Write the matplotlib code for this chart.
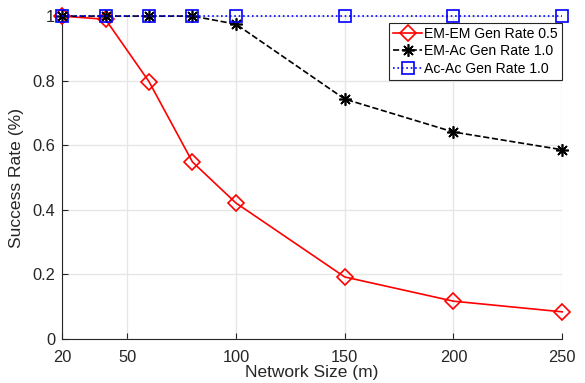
import matplotlib
matplotlib.use("Agg")
import matplotlib.pyplot as plt

plt.rcParams['font.family'] = ['Liberation Sans', 'DejaVu Sans']

network_size = [20, 40, 60, 80, 100, 150, 200, 250]
em_em = [1.0, 0.99, 0.797, 0.548, 0.421, 0.192, 0.117, 0.084]
em_ac = [1.0, 1.0, 1.0, 1.0, 0.975, 0.743, 0.641, 0.586]
ac_ac = [1.0, 1.0, 1.0, 1.0, 1.0, 1.0, 1.0, 1.0]

x_ticks = [20, 50, 100, 150, 200, 250]
y_ticks = [0, 0.2, 0.4, 0.6, 0.8, 1]
y_labels = ["0", "0.2", "0.4", "0.6", "0.8", "1"]

fig = plt.figure(figsize=(5.85, 3.83), dpi=100)
ax = fig.add_axes([0.106, 0.115, 0.855, 0.843])

ax.plot(network_size, em_em, color="red", lw=1.2, marker="D", markersize=8,
        markerfacecolor="none", markeredgewidth=1.2, label="EM-EM Gen Rate 0.5",
        clip_on=False, zorder=3)
# MATLAB-style asterisk: eight spokes
ax.plot(network_size, em_ac, color="black", lw=1.2, ls="--", marker=(8, 2, 0),
        markersize=9, markeredgewidth=1.2, label="EM-Ac Gen Rate 1.0",
        clip_on=False, zorder=4)
ax.plot(network_size, ac_ac, color="blue", lw=1.2, ls=":", marker="s",
        markersize=8, markerfacecolor="none", markeredgewidth=1.2,
        label="Ac-Ac Gen Rate 1.0", clip_on=False, zorder=5)

ax.set_xlim(20, 250)
ax.set_ylim(0, 1)
ax.set_xticks(x_ticks)
ax.set_yticks(y_ticks)
ax.set_yticklabels(y_labels)
ax.tick_params(direction="in", labelsize=11.8, colors="#262626", length=4)
ax.tick_params(axis="x", pad=8)
ax.tick_params(axis="y", pad=5)
ax.grid(True, color="#e6e6e6", lw=1)
ax.set_axisbelow(True)
for side in ["top", "right"]:
    ax.spines[side].set_visible(False)
for side in ["left", "bottom"]:
    ax.spines[side].set_color("#262626")

ax.set_xlabel("Network Size (m)", fontsize=12.5, color="#262626", labelpad=0)
ax.set_ylabel("Success Rate (%)", fontsize=12.6, color="#262626")
ax.yaxis.set_label_coords(-0.076, 0.5)

leg = ax.legend(loc="upper right", bbox_to_anchor=(1.0, 0.98), fontsize=10.1,
                fancybox=False, edgecolor="#262626", framealpha=1,
                handlelength=2.0, handletextpad=0.2, borderpad=0.3,
                labelspacing=0.25, borderaxespad=0.0)
leg.get_frame().set_linewidth(0.8)

fig.savefig("out.png", dpi=100)
